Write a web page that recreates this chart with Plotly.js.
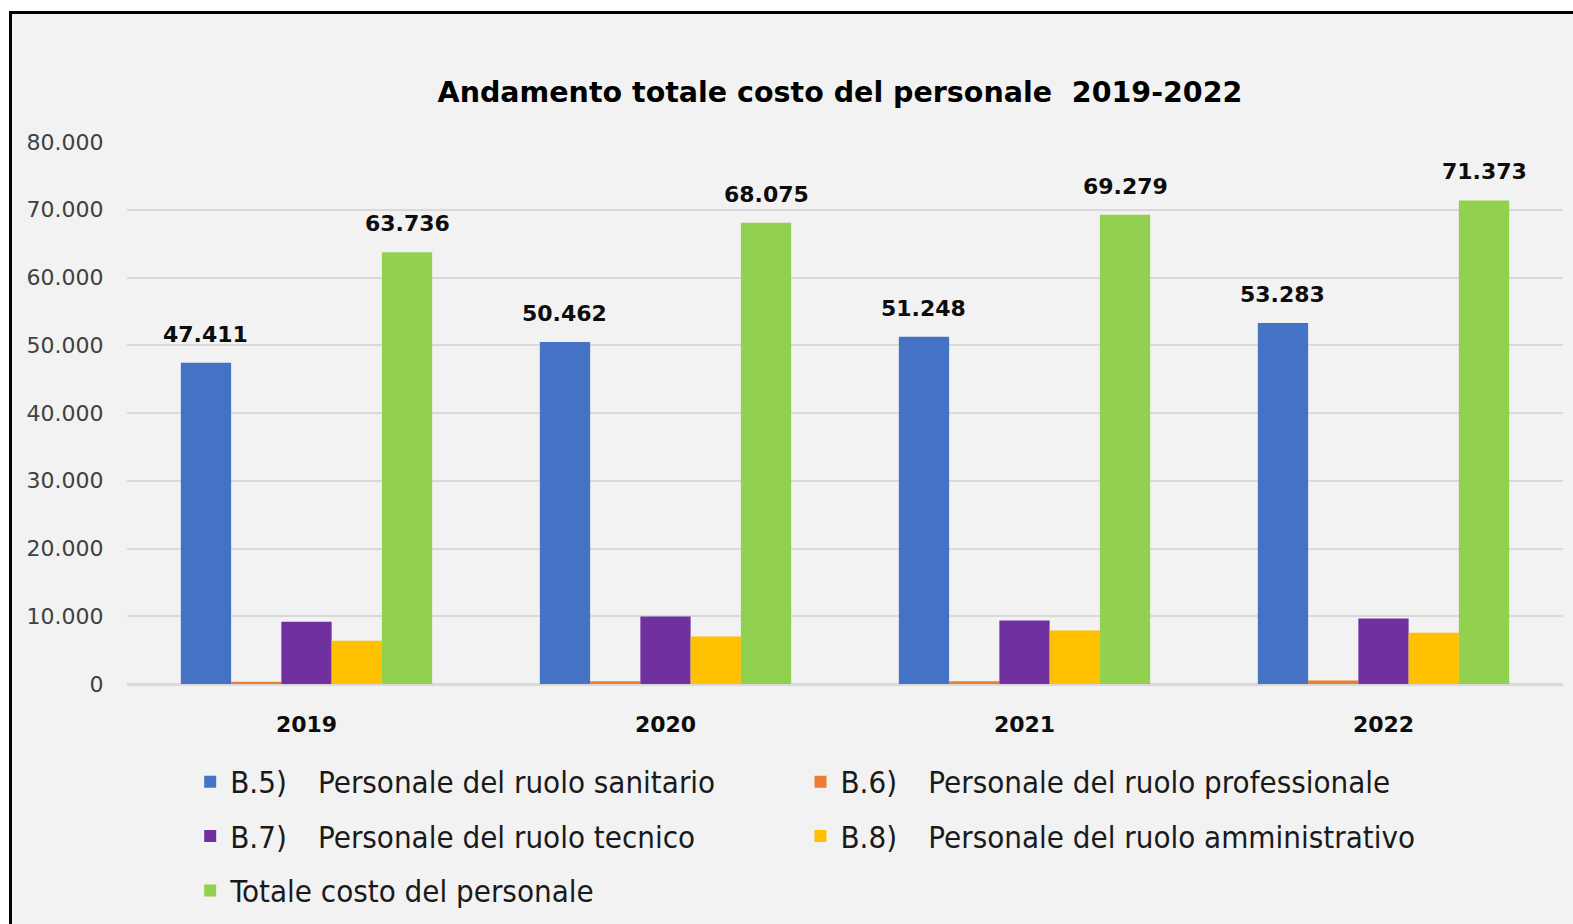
<!DOCTYPE html>
<html><head><meta charset="utf-8">
<script src="https://cdn.plot.ly/plotly-3.0.1.min.js"></script>
<style>
html,body{margin:0;padding:0;background:#fff;overflow:hidden;width:1573px;height:924px;}
#frame{position:absolute;left:9px;top:11px;width:1600px;height:950px;border-left:3px solid #000;border-top:3px solid #000;background:#f2f2f2;}
#chart{position:absolute;left:0;top:0;width:1573px;height:924px;}
</style></head><body>
<div id="frame"></div><div id="chart"></div>
<script>
// ---- data ----
const years = ['2019', '2020', '2021', '2022'];
const seriesNames = [
  'B.5)\u00a0\u00a0\u00a0\u2006Personale del ruolo sanitario',
  'B.6)\u00a0\u00a0\u00a0\u2006Personale del ruolo professionale',
  'B.7)\u00a0\u00a0\u00a0\u2006Personale del ruolo tecnico',
  'B.8)\u00a0\u00a0\u00a0\u2006Personale del ruolo amministrativo',
  'Totale costo del personale'
];
const sanitario      = [47411, 50462, 51248, 53283];
const professionale  = [350, 400, 400, 500];
const tecnico        = [9200, 9950, 9360, 9660];
const amministrativo = [6400, 7000, 7880, 7580];
const totale         = [63736, 68075, 69279, 71373];
const yTickVals = [0, 10000, 20000, 30000, 40000, 50000, 60000, 70000, 80000];

// ---- styling ----
const colors = ['#4472c4', '#ed7d31', '#7030a0', '#ffc000', '#92d050'];
const legendOf = ['legend', 'legend2', 'legend', 'legend2', 'legend'];
const BARGAP = 0.3;
const NSER = 5;
const fmt = n => String(n).replace(/\B(?=(\d{3})+(?!\d))/g, '.');
const values = [sanitario, professionale, tecnico, amministrativo, totale];
const labelled = [0, 4];

const traces = values.map((vals, k) => ({
  type: 'bar',
  name: '<span style="font-size:31px;baseline-shift:4px">' + seriesNames[k] + '</span>',
  x: years,
  y: vals,
  legend: legendOf[k],
  marker: {color: colors[k]},
  hoverinfo: 'x+y'
}));

const barW = (1 - BARGAP) / NSER;
const annotations = [];
labelled.forEach(k => {
  values[k].forEach((v, i) => {
    annotations.push({
      x: i + (k - (NSER - 1) / 2) * barW,
      y: v,
      xref: 'x', yref: 'y',
      text: fmt(v),
      showarrow: false,
      yanchor: 'bottom',
      yshift: 14,
      font: {family: 'DejaVu Sans', size: 22, color: '#0d0d0d', weight: 'bold'}
    });
  });
});

const legendBase = {
  orientation: 'v',
  xanchor: 'left', xref: 'paper',
  y: -0.121, yanchor: 'top', yref: 'paper',
  traceorder: 'normal',
  tracegroupgap: 0,
  bgcolor: 'rgba(0,0,0,0)',
  font: {family: 'DejaVu Sans Condensed, DejaVu Sans', size: 39.5, color: '#1a1a1a'}
};

const layout = {
  width: 1573, height: 924,
  paper_bgcolor: 'rgba(0,0,0,0)',
  plot_bgcolor: '#f2f2f2',
  margin: {l: 127, r: 10, t: 142, b: 240, autoexpand: false},
  separators: ',.',
  barmode: 'group',
  bargap: BARGAP,
  bargroupgap: 0,
  title: {
    text: 'Andamento totale costo del personale  2019-2022',
    x: 0.534, xref: 'container', xanchor: 'center',
    y: 1 - 92.5 / 924, yref: 'container', yanchor: 'middle',
    font: {family: 'DejaVu Sans', size: 28.5, color: '#000', weight: 'bold'}
  },
  xaxis: {
    type: 'category',
    showgrid: false, zeroline: false, showline: false,
    ticks: 'outside', ticklen: 21, tickcolor: 'rgba(0,0,0,0)',
    tickfont: {family: 'DejaVu Sans', size: 22, color: '#0d0d0d', weight: 'bold'}
  },
  yaxis: {
    range: [0, 80000],
    tickvals: yTickVals,
    tickformat: ',d',
    showgrid: true, gridcolor: '#d9d9d9', gridwidth: 2,
    zeroline: true, zerolinecolor: '#d9d9d9', zerolinewidth: 3,
    showline: false,
    ticks: 'outside', ticklen: 18, tickcolor: 'rgba(0,0,0,0)',
    tickfont: {family: 'DejaVu Sans', size: 22, color: '#404040'}
  },
  showlegend: true,
  legend: Object.assign({}, legendBase, {x: 0.044}),
  legend2: Object.assign({}, legendBase, {x: 0.469}),
  annotations: annotations
};

Plotly.newPlot('chart', traces, layout, {displayModeBar: false, responsive: false});
</script>
</body></html>
